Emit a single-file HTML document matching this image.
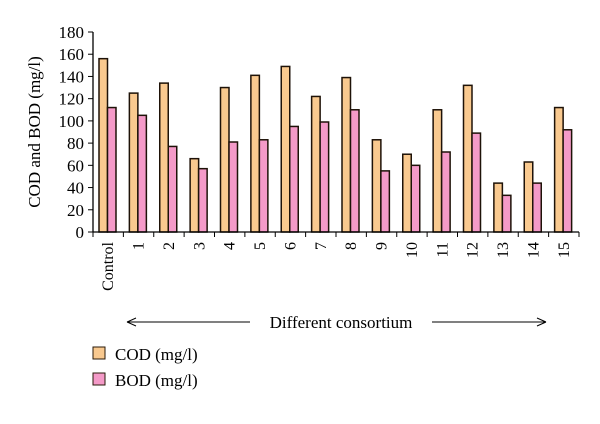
<!DOCTYPE html>
<html><head><meta charset="utf-8"><style>
body{margin:0;background:#fff;}
svg{font-family:"Liberation Serif",serif;}
</style></head><body>
<svg width="600" height="419">
<g id="plot"></g>
<text transform="translate(40,132) rotate(-90)" text-anchor="middle" font-size="17">COD and BOD (mg/l)</text>
<g>
<line x1="127" y1="322" x2="250" y2="322" stroke="#000" stroke-width="1"/>
<line x1="432" y1="322" x2="546" y2="322" stroke="#000" stroke-width="1"/>
<path d="M127,322 l9,-4 M127,322 l9,4 M546,322 l-9,-4 M546,322 l-9,4" stroke="#000" fill="none"/>
<text x="341" y="328" text-anchor="middle" font-size="17">Different consortium</text>
</g>
<g>
<rect x="93" y="347" width="12" height="12" fill="#f9c98f" stroke="#2a1a0a"/>
<text x="115" y="360" font-size="17">COD (mg/l)</text>
<rect x="93" y="373" width="12" height="12" fill="#f49ac8" stroke="#2a1a0a"/>
<text x="115" y="386" font-size="17">BOD (mg/l)</text>
</g>
</svg>
<script>
const categories=["Control","1","2","3","4","5","6","7","8","9","10","11","12","13","14","15"];
const codValues=[156,125,134,66,130,141,149,122,139,83,70,110,132,44,63,112];
const bodValues=[112,105,77,57,81,83,95,99,110,55,60,72,89,33,44,92];
const yTicks=[0,20,40,60,80,100,120,140,160,180];
const NS="http://www.w3.org/2000/svg";
const g=document.getElementById('plot');
const x0=93,x1=579,y0=232,yTop=32,yMax=180;
const band=(x1-x0)/categories.length;
const y=v=>y0-(v/yMax)*(y0-yTop);
function mk(t,a){const e=document.createElementNS(NS,t);for(const k in a)e.setAttribute(k,a[k]);g.appendChild(e);return e;}
categories.forEach((c,i)=>{
  const bx=x0+i*band;
  const r1=mk('rect',{x:bx+6,y:y(codValues[i]),width:8.5,height:y0-y(codValues[i]),fill:'#f9c98f',stroke:'#1e1208','stroke-width':1.5});
  
  
  const r2=mk('rect',{x:bx+14.5,y:y(bodValues[i]),width:8.5,height:y0-y(bodValues[i]),fill:'#f49ac8',stroke:'#1e1208','stroke-width':1.5});
  
  
  const t=mk('text',{transform:`translate(${bx+band/2+5},242) rotate(-90)`,'text-anchor':'end','font-size':16});
  t.textContent=c;
  
  
});
for(let i=0;i<=categories.length;i++){
  const tx=x0+i*band;
  const l=mk('line',{x1:tx,y1:y0,x2:tx,y2:y0+5,stroke:'#000'});
  
  
}
yTicks.forEach(v=>{
  const l=mk('line',{x1:x0-5,y1:y(v),x2:x0,y2:y(v),stroke:'#000'});
  
  
  const t=mk('text',{x:x0-9,y:y(v)+6,'text-anchor':'end','font-size':17});
  t.textContent=v;
  
  
});
const ya=mk('line',{x1:x0,y1:yTop,x2:x0,y2:y0,stroke:'#000','stroke-width':1.3});


const xa=mk('line',{x1:x0,y1:y0,x2:x1,y2:y0,stroke:'#000','stroke-width':1.3});


</script>
</body></html>
